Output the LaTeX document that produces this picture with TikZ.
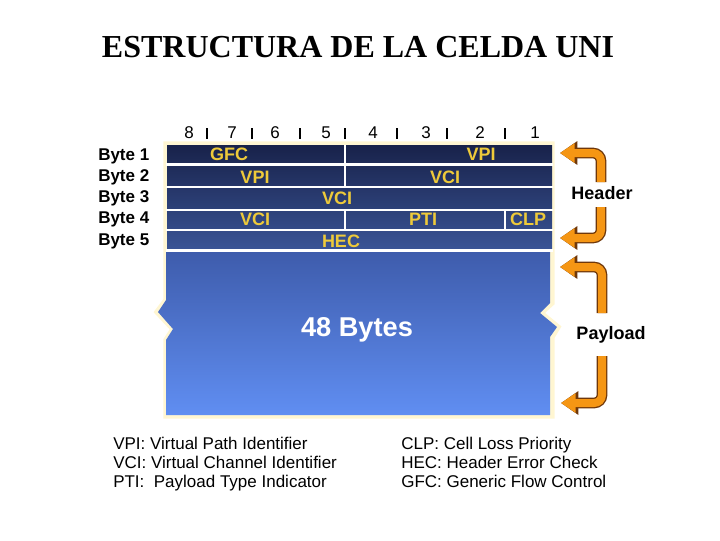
\documentclass[tikz,border=0pt]{standalone}
\usepackage{fontspec}
\setmainfont{Liberation Sans}
\newfontfamily\titlefont{Liberation Serif}
\usetikzlibrary{arrows.meta,positioning,calc}
\definecolor{celltop}{RGB}{24,34,74}
\definecolor{cellbot}{RGB}{58,84,150}
\definecolor{paytop}{RGB}{62,92,172}
\definecolor{paybot}{RGB}{96,142,242}
\definecolor{fieldyellow}{RGB}{238,202,58}
\definecolor{glow}{RGB}{255,246,210}
\definecolor{arroworange}{RGB}{245,150,20}
\definecolor{arrowbrown}{RGB}{110,55,10}

\tikzset{
    bitnum/.style={font=\fontsize{12.75}{14}\selectfont, inner sep=0pt},
    bytelbl/.style={font=\bfseries\fontsize{12.75}{14}\selectfont, inner sep=0pt, anchor=west},
    fieldlbl/.style={font=\bfseries\fontsize{13.5}{15}\selectfont, text=fieldyellow, inner sep=0pt},
    sidelbl/.style={font=\bfseries\fontsize{13.5}{15}\selectfont, inner sep=0pt},
    legend/.style={font=\fontsize{12.75}{14.25}\selectfont, align=left, anchor=north west, inner sep=0pt},
    bittick/.style={line width=1.6pt},
    rowgap/.style={white, line width=2.2pt},
    bentarrow/.style={line width=6pt, draw=arroworange, rounded corners=6pt,
        -{Triangle[length=11pt,width=14pt]},
        preaction={draw=arrowbrown, line width=8pt, -{Triangle[length=13pt,width=17pt]}}}
}

\begin{document}
\begin{tikzpicture}[x=0.75pt, y=-0.75pt]
    \useasboundingbox (0,0) rectangle (720,540);

    % title
    \node[font=\titlefont\bfseries\fontsize{24}{27}\selectfont, inner sep=0pt] (title) at (358,47) {ESTRUCTURA DE LA CELDA UNI};

    % bit numbers
    \foreach \b/\x in {8/189, 7/232, 6/275, 5/326, 4/373, 3/426, 2/480, 1/535}
        \node[bitnum] (bit\b) at (\x,133) {\b};
    \foreach \x in {207, 252, 300, 345, 397, 447, 505}
        \draw[bittick] (\x,128) -- (\x,139);

    % byte labels
    \foreach \i/\y in {1/156, 2/177, 3/198, 4/219, 5/241}
        \node[bytelbl] (byte\i) at (98,\y) {Byte \i};

    % header and payload blocks
    \draw[glow, line width=4pt] (166,144) -- (552,144) -- (552,303) -- (541,313) -- (558,327) -- (552,337)
        -- (552,416) -- (166,416) -- (166,340) -- (173,329) -- (157,312) -- (166,300) -- cycle;
    \shade[top color=celltop, bottom color=cellbot] (167,145) rectangle (552,250);
    \shade[top color=paytop, bottom color=paybot] (166,252) -- (550,252) -- (550,303) -- (540,313)
        -- (557,327) -- (550,337) -- (550,415) -- (166,415) -- (166,340) -- (173,329) -- (158,312)
        -- (166,300) -- cycle;
    \foreach \y in {164.5, 187, 210, 230, 250.5}
        \draw[rowgap] (166,\y) -- (553,\y);
    \draw[rowgap] (345,145) -- (345,187);
    \draw[rowgap] (345,210) -- (345,230);
    \draw[rowgap] (505,210) -- (505,230);

    % fields
    \node[fieldlbl] (gfc) at (229,154) {GFC};
    \node[fieldlbl] (vpia) at (481,154) {VPI};
    \node[fieldlbl] (vpib) at (255,177) {VPI};
    \node[fieldlbl] (vcia) at (445,177) {VCI};
    \node[fieldlbl] (vcib) at (337,198) {VCI};
    \node[fieldlbl] (vcic) at (255,219) {VCI};
    \node[fieldlbl] (pti) at (423,219) {PTI};
    \node[fieldlbl] (clp) at (528,219) {CLP};
    \node[fieldlbl] (hec) at (341,241) {HEC};
    \node[font=\bfseries\fontsize{20.4}{23}\selectfont, text=white, inner sep=0pt] (bytes) at (357,330) {48 Bytes};

    % side labels and arrows
    \node[sidelbl] (header) at (602,193) {Header};
    \node[sidelbl] (payload) at (611,335) {Payload};
    \coordinate (hdtop) at (601,182);
    \coordinate (hdtoptip) at (560,153);
    \coordinate (hdbot) at (601,207);
    \coordinate (hdbottip) at (560,238);
    \coordinate (pltop) at (602,313);
    \coordinate (pltoptip) at (560,267);
    \coordinate (plbot) at (602,356);
    \coordinate (plbottip) at (561,403);
    \draw[bentarrow] (hdtop) |- (hdtoptip);
    \draw[bentarrow] (hdbot) |- (hdbottip);
    \draw[bentarrow] (pltop) |- (pltoptip);
    \draw[bentarrow] (plbot) |- (plbottip);

    % legend
    \node[legend] (legleft) at (113,437) {VPI: Virtual Path Identifier\\VCI: Virtual Channel Identifier\\PTI:\ \ Payload Type Indicator};
    \node[legend] (legright) at (401,437) {CLP: Cell Loss Priority\\HEC: Header Error Check\\GFC: Generic Flow Control};
\end{tikzpicture}
\end{document}
